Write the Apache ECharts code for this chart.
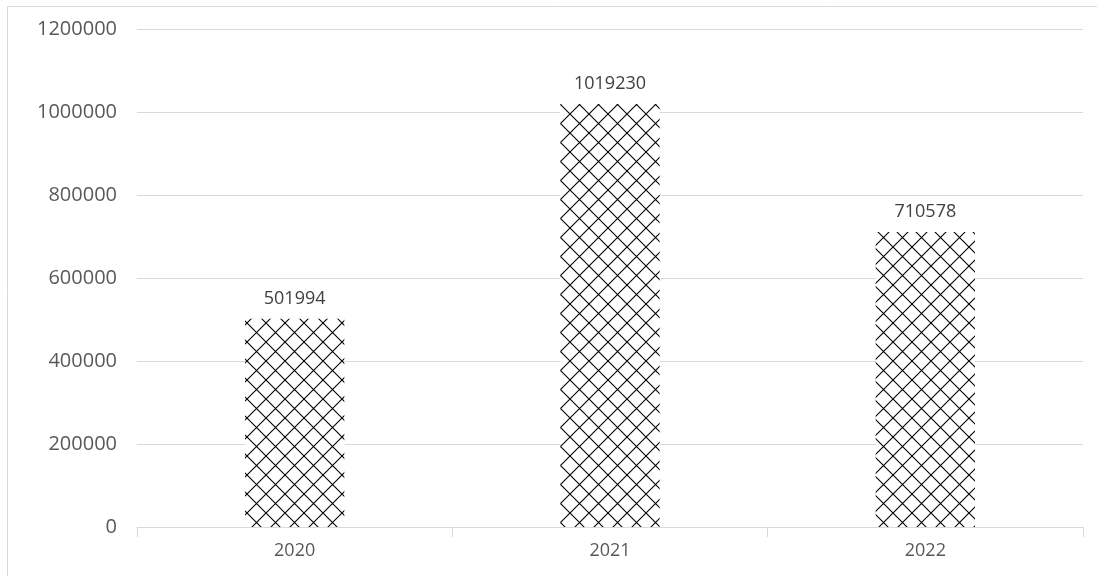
<!DOCTYPE html>
<html>
<head>
<meta charset="utf-8">
<script src="https://cdn.jsdelivr.net/npm/echarts@6/dist/echarts.min.js"></script>
<style>
  html, body { margin: 0; padding: 0; background: #ffffff; }
  #chart { width: 1097px; height: 576px; }
</style>
</head>
<body>
<div id="chart"></div>
<script>
// Yearly totals
const years = ['2020', '2021', '2022'];
const totals = [501994, 1019230, 710578];
const yTicks = [0, 200000, 400000, 600000, 800000, 1000000, 1200000];

// Crosshatch fill: white tile with both diagonals drawn in black
function crosshatch(size) {
  const c = document.createElement('canvas');
  c.width = size;
  c.height = size;
  const ctx = c.getContext('2d');
  ctx.fillStyle = '#ffffff';
  ctx.fillRect(0, 0, size, size);
  ctx.strokeStyle = '#000000';
  ctx.lineWidth = 1.1;
  ctx.beginPath();
  ctx.moveTo(0, 0); ctx.lineTo(size, size);
  ctx.moveTo(size, 0); ctx.lineTo(0, size);
  ctx.stroke();
  return c;
}

const chart = echarts.init(document.getElementById('chart'), null, { renderer: 'canvas' });
const font = '"Open Sans", "Liberation Sans", sans-serif';

chart.setOption({
  animation: false,
  backgroundColor: '#ffffff',
  graphic: [{
    type: 'rect',
    shape: { x: 7.5, y: 6.5, width: 1200, height: 700 },
    style: { fill: 'none', stroke: '#d9d9d9', lineWidth: 1 },
    silent: true
  }],
  grid: { left: 137, right: 14, top: 29, bottom: 49, containLabel: false },
  xAxis: {
    type: 'category',
    data: years,
    boundaryGap: true,
    axisLine: { lineStyle: { color: '#d9d9d9', width: 1 } },
    axisTick: { show: true, length: 10, lineStyle: { color: '#d9d9d9' } },
    axisLabel: { color: '#595959', fontSize: 18, fontFamily: font, margin: 15 }
  },
  yAxis: {
    type: 'value',
    min: yTicks[0],
    max: yTicks[yTicks.length - 1],
    interval: yTicks[1] - yTicks[0],
    axisLine: { show: false },
    axisTick: { show: false },
    splitLine: { lineStyle: { color: '#d9d9d9', width: 1 } },
    axisLabel: {
      color: '#595959', fontSize: 20, fontFamily: font, margin: 20,
      formatter: v => String(v)
    }
  },
  series: [{
    type: 'bar',
    data: totals,
    barWidth: '31.5%',
    itemStyle: {
      color: { image: crosshatch(19), repeat: 'repeat' }
    },
    label: {
      show: true,
      position: 'top',
      distance: 11,
      color: '#404040',
      fontSize: 18,
      fontFamily: font
    }
  }]
});
</script>
</body>
</html>
